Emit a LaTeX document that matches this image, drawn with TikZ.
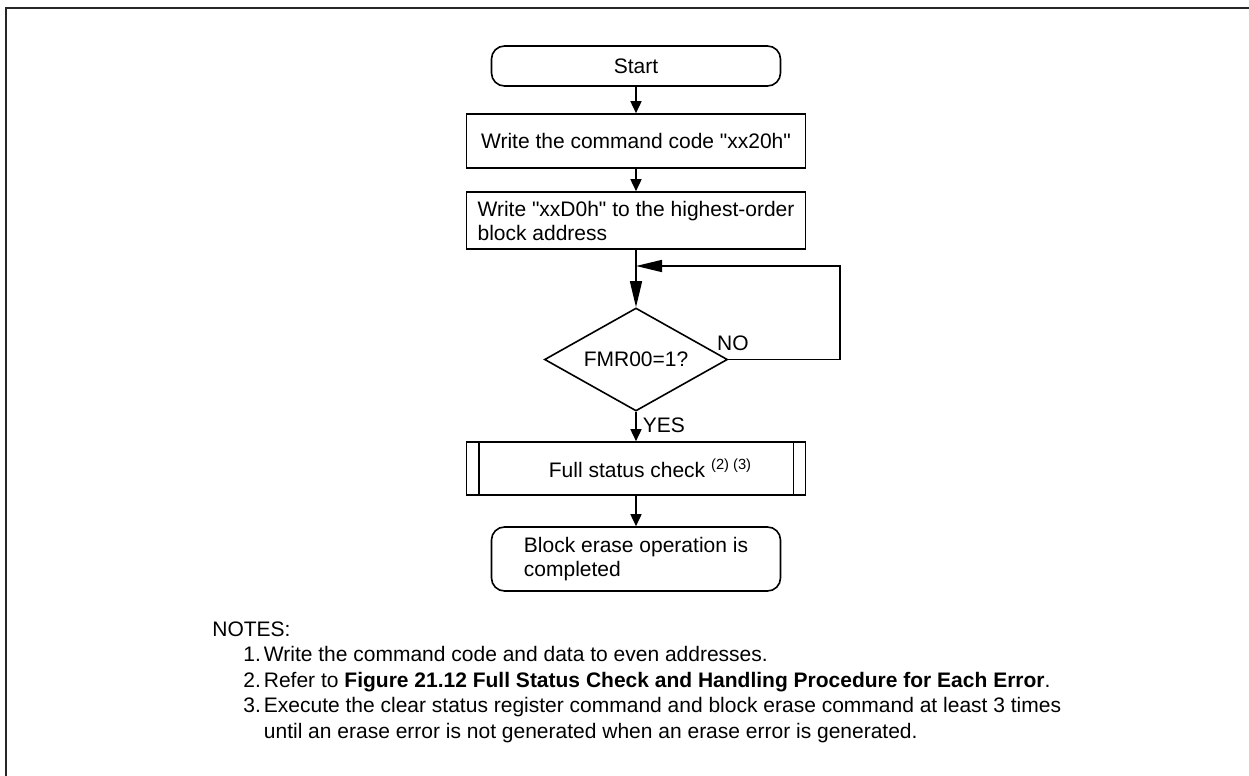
\documentclass[tikz,border=0pt]{standalone}
\usepackage{fontspec}
\setmainfont{Liberation Sans}
\usetikzlibrary{arrows.meta,shapes.geometric,positioning}
\newcommand{\strq}{\XeTeXglyph\XeTeXcharglyph"22\relax}

\begin{document}
\begin{tikzpicture}[x=0.5pt, y=-0.5pt,
        font=\fontsize{10.5pt}{12pt}\selectfont,
        flowbox/.style={draw, line width=0.8pt, minimum width=169.5pt, inner sep=0pt},
        termbox/.style={flowbox, rounded corners=6.5pt, minimum width=144.5pt},
        decbox/.style={draw, line width=0.8pt, diamond, aspect=1.78, minimum width=91.5pt, minimum height=51.5pt, inner sep=0pt},
        flow/.style={-{Triangle[length=6pt, width=5.5pt]}, line width=0.8pt},
        bigflow/.style={-{Triangle[length=13pt, width=6pt]}, line width=0.8pt}]
        \useasboundingbox (0,0) rectangle (1249,776);

        % Frame
        \draw[line width=1.25pt, black!85] (6,776) -- (6,8) -- (1249,8);

        % NODES
        \node[termbox, minimum height=20pt] (start) at (636,66) {Start};
        \node[flowbox, minimum height=27pt] (cmd) at (636,141) {Write the command code \strq xx20h\strq};
        \node[flowbox, minimum height=28.5pt, align=left] (addr) at (636,220.5) {Write \strq xxD0h\strq{} to the highest-order\\block address};
        \node[decbox] (chk) at (636,359.5) {FMR00=1?};
        \node[flowbox, minimum height=26.5pt] (fsc) at (636,468.5) {\hspace*{14.5pt}Full status check \textsuperscript{(2) (3)}};
        \draw[line width=0.8pt] ([xshift=6.5pt]fsc.north west) -- ([xshift=6.5pt]fsc.south west);
        \draw[line width=0.8pt] ([xshift=-6.5pt]fsc.north east) -- ([xshift=-6.5pt]fsc.south east);
        \node[termbox, minimum height=32pt, align=left] (done) at (636,559) {Block erase operation is\\completed};

        % Loop back
        \coordinate (loop) at (840,266);
        \coordinate (join) at (636,266);

        % Connectors
        \draw[flow] (start) -- (cmd);
        \draw[flow] (cmd) -- (addr);
        \draw[bigflow] (addr) -- (chk);
        \draw[bigflow] (chk.east) node[anchor=base west, inner sep=0pt, xshift=-6pt, yshift=4.5pt] {NO} -| (loop) -- (join);
        \draw[flow] (chk) -- node[pos=0.45, right, inner sep=3pt] (yes) {YES} (fsc);
        \draw[flow] (fsc) -- (done);

        % Notes
        \node[anchor=base west, align=left, inner sep=0pt, font=\fontsize{10.5pt}{12.75pt}\selectfont] (notes) at (212,738) {
            NOTES:\\
            \hspace*{15.5pt}1.\hspace{1.5pt}Write the command code and data to even addresses.\\
            \hspace*{15.5pt}2.\hspace{1.5pt}Refer to \textbf{Figure 21.12 Full Status Check and Handling Procedure for Each Error}.\\
            \hspace*{15.5pt}3.\hspace{1.5pt}Execute the clear status register command and block erase command at least 3 times\\
            \hspace*{25.75pt}until an erase error is not generated when an erase error is generated.
        };
    \end{tikzpicture}
\end{document}
